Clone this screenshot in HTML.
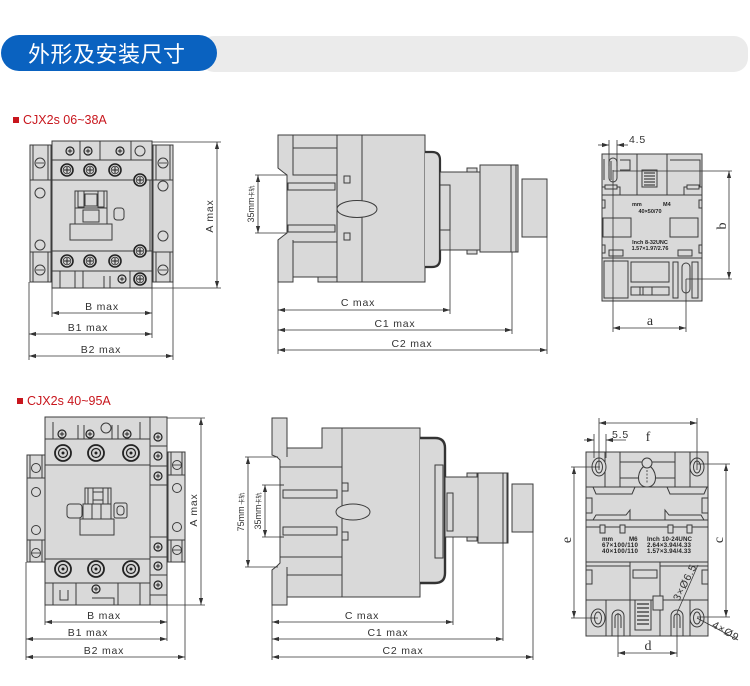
<!DOCTYPE html>
<html><head><meta charset="utf-8"><style>
html,body{margin:0;padding:0;background:#fff;}
svg{display:block;}
.f{fill:#d9d9d9;stroke:#3c3c3c;stroke-width:1;}
.n{fill:none;stroke:#3c3c3c;stroke-width:1;}
.l{fill:none;stroke:#333;stroke-width:0.8;}
.dm{fill:none;stroke:#333;stroke-width:0.8;marker-start:url(#ar);marker-end:url(#ar);}
.t{font-family:"Liberation Sans",sans-serif;font-size:10.5px;fill:#333;letter-spacing:0.8px;}
.s{font-family:"Liberation Serif",serif;font-size:14px;fill:#333;}
.sm{font-family:"Liberation Sans",sans-serif;font-size:5.5px;font-weight:bold;fill:#222;}
.sm6{font-family:"Liberation Sans",sans-serif;font-size:6.2px;font-weight:bold;fill:#222;}
</style></head><body>
<svg width="750" height="686" viewBox="0 0 750 686" xmlns="http://www.w3.org/2000/svg">
<defs>
<marker id="ar" viewBox="0 0 10 10" refX="10" refY="5" markerWidth="7" markerHeight="7" markerUnits="userSpaceOnUse" orient="auto-start-reverse"><path d="M0,2 L10,5 L0,8z" fill="#333"/></marker>
<g id="scp"><circle r="6" fill="#d4d4d4" stroke="#222" stroke-width="1.6"/><circle r="3.8" fill="none" stroke="#333" stroke-width="0.8"/><path d="M-3,0H3M0,-3V3" stroke="#222" stroke-width="1"/></g>
<g id="scs"><circle r="4" fill="#d4d4d4" stroke="#222" stroke-width="1.2"/><path d="M-2.2,0H2.2M0,-2.2V2.2" stroke="#222" stroke-width="0.9"/></g>
<g id="scb"><circle r="8" fill="#d4d4d4" stroke="#222" stroke-width="1.8"/><circle r="4.5" fill="#d4d4d4" stroke="#222" stroke-width="1.2"/><circle r="1.5" fill="#222"/></g>
</defs>

<!-- HEADER -->
<rect x="200" y="36" width="548" height="36" rx="14" fill="#ebebeb"/>
<rect x="1" y="35" width="216" height="36" rx="18" fill="#0a62c0"/>
<text x="28" y="62" font-family="'Liberation Sans','Noto Sans CJK SC',sans-serif" font-size="22" fill="#fff" textLength="157">外形及安装尺寸</text>

<!-- LABELS -->
<rect x="13" y="117" width="6" height="6" fill="#c8161d"/>
<text x="23" y="124" font-family="'Liberation Sans',sans-serif" font-size="12.5" fill="#c8161d">CJX2s 06~38A</text>
<rect x="17" y="398" width="6" height="6" fill="#c8161d"/>
<text x="27" y="405" font-family="'Liberation Sans',sans-serif" font-size="12.5" fill="#c8161d">CJX2s 40~95A</text>

<!-- ============ DIAGRAM 1 ============ -->
<g>
<rect class="f" x="30" y="145" width="21" height="137"/>
<path class="n" d="M30,180H51M30,252H51M33,145V180M48,145V180M33,252V282M48,252V282"/>
<circle class="f" cx="40" cy="163" r="5"/><path class="l" d="M36,163H44"/>
<circle class="f" cx="40" cy="193" r="5"/><circle class="f" cx="40" cy="245" r="5"/>
<circle class="f" cx="40" cy="270" r="5"/><path class="l" d="M36,270H44"/>
<rect class="f" x="153" y="145" width="20" height="137"/>
<path class="n" d="M153,180H173M153,252H173M156,145V180M170,145V180M156,252V282M170,252V282"/>
<circle class="f" cx="163" cy="163" r="5"/><path class="l" d="M159,163H167"/>
<circle class="f" cx="163" cy="186" r="5"/><circle class="f" cx="163" cy="236" r="5"/>
<circle class="f" cx="163" cy="270" r="5"/><path class="l" d="M159,270H167"/>
<rect class="f" x="52" y="141" width="100" height="147"/>
<path class="n" d="M52,160H152M52,180H152M52,251H152M52,271H152M80,141V160M100,141V160M131,141V160M150,180V251"/>
<path class="n" d="M60,271V288M75,271V288M83,271V288M104,276V288M110,276V288M130,271V288"/>
<circle class="n" cx="140" cy="151" r="5"/>
<use href="#scs" x="70" y="151"/><use href="#scs" x="88" y="151"/><use href="#scs" x="120" y="151"/>
<use href="#scp" x="67" y="170"/><use href="#scp" x="90" y="170"/><use href="#scp" x="115" y="170"/>
<use href="#scp" x="140" y="180"/><use href="#scp" x="140" y="251"/>
<use href="#scp" x="67" y="261"/><use href="#scp" x="90" y="261"/><use href="#scp" x="115" y="261"/>
<use href="#scs" x="122" y="279"/><use href="#scp" x="140" y="279"/>
<rect class="f" x="75" y="191" width="32" height="33"/>
<rect class="n" x="78" y="191" width="6" height="16"/><rect class="n" x="98" y="191" width="6" height="16"/>
<rect class="n" x="85" y="194" width="12" height="12"/>
<rect class="f" x="75" y="208" width="32" height="16"/><rect class="n" x="83" y="210" width="16" height="12"/>
<rect class="f" x="70" y="224" width="42" height="16"/>
<rect class="n" x="114" y="208" width="10" height="12" rx="3"/>
<path class="l" d="M152,142H221M152,288H221M52,288V317M152,288V338M29,282V360M173,282V360"/>
<line class="dm" x1="217" y1="142" x2="217" y2="288"/>
<text class="t" transform="translate(213,216) rotate(-90)" text-anchor="middle">A max</text>
<line class="dm" x1="52" y1="313" x2="152" y2="313"/>
<text class="t" x="102" y="310" text-anchor="middle">B max</text>
<line class="dm" x1="29" y1="334" x2="152" y2="334"/>
<text class="t" x="88" y="331" text-anchor="middle">B1 max</text>
<line class="dm" x1="29" y1="356" x2="173" y2="356"/>
<text class="t" x="101" y="353" text-anchor="middle">B2 max</text>
</g>

<!-- ============ DIAGRAM 2 ============ -->
<g>
<path class="f" d="M278,135H362V282H318V277H293V282H278V240L283,236L287,233V175L283,172L278,168Z"/>
<rect class="f" x="362" y="135" width="63" height="147"/>
<path class="n" d="M293,135V168M293,240V277M337,135V282"/>
<rect class="f" x="293" y="148" width="44" height="27"/>
<rect class="f" x="293" y="242" width="44" height="35"/>
<rect class="f" x="288" y="183" width="47" height="7"/>
<rect class="f" x="288" y="225" width="47" height="7"/>
<rect class="f" x="344" y="176" width="6" height="7"/>
<rect class="f" x="344" y="233" width="6" height="7"/>
<ellipse class="f" cx="357" cy="209" rx="20" ry="8.5"/>
<path d="M425,152H432Q440,152 440,160V259Q440,267 432,267H425" fill="#d9d9d9" stroke="#333" stroke-width="2.2"/>
<rect class="f" x="440" y="172" width="40" height="78"/>
<rect class="f" x="440" y="185" width="10" height="45"/>
<rect class="f" x="467" y="168" width="10" height="4"/>
<rect class="f" x="467" y="250" width="10" height="4"/>
<rect class="f" x="480" y="165" width="38" height="87"/>
<path class="n" d="M511,165V252M516,165V252"/>
<rect class="f" x="522" y="179" width="25" height="58"/>
<path class="l" d="M278,282V354M450,230V314M512,252V334M547,237V354M255,175H287M255,233H287"/>
<line class="dm" x1="258" y1="175" x2="258" y2="233"/>
<text transform="translate(254,204) rotate(-90)" text-anchor="middle" font-family="'Liberation Sans','Noto Sans CJK SC',sans-serif" font-size="9" fill="#333">35mm<tspan font-size="6">卡轨</tspan></text>
<line class="dm" x1="278" y1="310" x2="450" y2="310"/>
<text class="t" x="358" y="306" text-anchor="middle">C max</text>
<line class="dm" x1="278" y1="330" x2="512" y2="330"/>
<text class="t" x="395" y="327" text-anchor="middle">C1 max</text>
<line class="dm" x1="278" y1="350" x2="547" y2="350"/>
<text class="t" x="412" y="347" text-anchor="middle">C2 max</text>
</g>

<!-- ============ DIAGRAM 3 ============ -->
<g>
<rect class="f" x="602" y="154" width="100" height="147"/>
<path class="n" d="M602,187H620V195H637M667,195H684V187H702M602,195H637M667,195H702M602,258H702M637,154V195H667V154"/>
<path class="n" d="M620,160H630V170H620M670,160H700V187"/>
<rect class="f" x="642" y="170" width="15" height="17"/>
<path d="M644,173H655M644,176H655M644,179H655M644,182H655M644,185H655" stroke="#444" stroke-width="1.2"/>
<rect class="f" x="605" y="185" width="12" height="4"/><rect class="f" x="687" y="185" width="12" height="4"/>
<rect class="f" x="603" y="218" width="28" height="19"/><rect class="f" x="670" y="218" width="28" height="19"/>
<rect class="f" x="602" y="200" width="3" height="8"/><rect class="f" x="699" y="200" width="3" height="8"/>
<rect class="f" x="602" y="245" width="3" height="8"/><rect class="f" x="699" y="245" width="3" height="8"/>
<rect class="f" x="609" y="250" width="14" height="6"/><rect class="f" x="678" y="250" width="14" height="6"/>
<rect class="f" x="604" y="261" width="24" height="37"/>
<rect class="f" x="631" y="262" width="38" height="20"/>
<rect class="f" x="631" y="287" width="38" height="8"/>
<path class="n" d="M640,287V295M643,287V295M652,287V295"/>
<rect class="f" x="673" y="262" width="5" height="36"/><rect class="f" x="692" y="262" width="6" height="36"/>
<rect class="f" x="609" y="158" width="8" height="24" rx="4"/>
<rect class="f" x="682" y="263" width="8" height="30" rx="4"/>
<path class="n" d="M604,159V180M611,161V180"/>
<text class="sm" x="632" y="206">mm</text><text class="sm" x="663" y="206">M4</text>
<text class="sm" x="650" y="213" text-anchor="middle">40×50/70</text>
<text class="sm" x="650" y="244" text-anchor="middle">Inch  8-32UNC</text>
<text class="sm" x="650" y="250" text-anchor="middle">1.57×1.97/2.76</text>
<path class="l" d="M609,140V166M617,140V166M613,171H732M686,279H732M613,170V332M686,279V332"/>
<line class="l" x1="598" y1="145" x2="609" y2="145" marker-end="url(#ar)"/>
<line class="l" x1="628" y1="145" x2="617" y2="145" marker-end="url(#ar)"/>
<text class="t" x="629" y="143" font-size="11">4.5</text>
<line class="dm" x1="729" y1="171" x2="729" y2="279"/>
<text class="s" transform="translate(726,226) rotate(-90)" text-anchor="middle">b</text>
<line class="dm" x1="613" y1="328" x2="686" y2="328"/>
<text class="s" x="650" y="325" text-anchor="middle">a</text>
</g>

<!-- ============ DIAGRAM 4 ============ -->
<g>
<rect class="f" x="27" y="455" width="18" height="107"/>
<path class="n" d="M27,478H45M27,540H45M30,455V478M42,455V478M30,540V562M42,540V562"/>
<circle class="f" cx="36" cy="468" r="4.5"/><circle class="f" cx="36" cy="492" r="4.5"/>
<circle class="f" cx="36" cy="530" r="4.5"/><circle class="f" cx="36" cy="553" r="4.5"/><path class="l" d="M32,553H40"/>
<rect class="f" x="168" y="452" width="17" height="110"/>
<path class="n" d="M168,475H185M168,540H185M171,452V475M182,452V475M171,540V562M182,540V562"/>
<circle class="f" cx="177" cy="465" r="4.5"/><path class="l" d="M173,465H181"/><circle class="f" cx="177" cy="488" r="4.5"/>
<circle class="f" cx="177" cy="527" r="4.5"/><circle class="f" cx="177" cy="550" r="4.5"/><path class="l" d="M173,550H181"/>
<rect class="f" x="45" y="417" width="122" height="188"/>
<path class="n" d="M45,439H150M45,465H150M45,559H150M45,583H150M150,417V605M53,422V439M78,425V439M84,425V439M112,425V439M118,425V439M140,422V439"/>
<path class="n" d="M150,446H167M150,466H167M150,485H167M150,537H167M150,557H167M150,575H167M150,595H167"/>
<circle class="n" cx="106" cy="428" r="5"/>
<use href="#scs" x="62" y="434"/><use href="#scs" x="90" y="434"/><use href="#scs" x="127" y="434"/>
<use href="#scb" x="63" y="453"/><use href="#scb" x="96" y="453"/><use href="#scb" x="131" y="453"/>
<use href="#scb" x="63" y="569"/><use href="#scb" x="96" y="569"/><use href="#scb" x="131" y="569"/>
<use href="#scs" x="158" y="437"/><use href="#scs" x="158" y="456"/><use href="#scs" x="158" y="476"/>
<use href="#scs" x="158" y="547"/><use href="#scs" x="158" y="566"/><use href="#scs" x="158" y="585"/>
<path class="n" d="M53,583V605M60,590V600H68V590M76,583V605M118,583V605M140,583V605M92,598H114V605"/>
<use href="#scs" x="96" y="589"/>
<rect class="f" x="85" y="488" width="26" height="18"/>
<rect class="n" x="88" y="488" width="5" height="16"/><rect class="n" x="103" y="488" width="5" height="16"/>
<rect class="n" x="93" y="492" width="10" height="8"/>
<rect class="f" x="67" y="504" width="15" height="14" rx="3"/>
<rect class="f" x="83" y="504" width="28" height="15"/>
<path class="n" d="M92,504V519M101,504V519"/>
<rect class="f" x="114" y="503" width="13" height="15" rx="2"/><rect class="n" x="117" y="506" width="7" height="9" rx="3"/>
<rect class="f" x="80" y="519" width="34" height="16"/>
<path class="l" d="M167,418H205M167,605H205M45,605V625M167,605V641M26,562V660M185,562V660"/>
<line class="dm" x1="201" y1="418" x2="201" y2="605"/>
<text class="t" transform="translate(197,510) rotate(-90)" text-anchor="middle">A max</text>
<line class="dm" x1="45" y1="622" x2="167" y2="622"/>
<text class="t" x="104" y="619" text-anchor="middle">B max</text>
<line class="dm" x1="26" y1="639" x2="167" y2="639"/>
<text class="t" x="88" y="636" text-anchor="middle">B1 max</text>
<line class="dm" x1="26" y1="657" x2="185" y2="657"/>
<text class="t" x="104" y="654" text-anchor="middle">B2 max</text>
</g>

<!-- ============ DIAGRAM 5 ============ -->
<g>
<path class="f" d="M272,418H287V448H322V428H342V597H287V605H272V570L277,566L280,563V460L277,457L272,455Z"/>
<rect class="f" x="342" y="428" width="78" height="169"/>
<path class="n" d="M287,418V457M287,567V605M280,467H342M280,557H342M287,575H342"/>
<path class="n" d="M280,485H284M280,537H284"/>
<rect class="f" x="283" y="490" width="54" height="8"/>
<rect class="f" x="283" y="527" width="54" height="8"/>
<rect class="f" x="342" y="483" width="6" height="8"/>
<rect class="f" x="342" y="532" width="6" height="8"/>
<ellipse class="f" cx="353" cy="512" rx="17" ry="8"/>
<path d="M420,438H435Q445,438 445,448V573Q445,583 435,583H420" fill="#d9d9d9" stroke="#333" stroke-width="2.4"/>
<rect class="f" x="435" y="465" width="8" height="93"/>
<rect class="f" x="445" y="477" width="33" height="60"/>
<rect class="f" x="447" y="493" width="6" height="38"/>
<rect class="f" x="467" y="473" width="10" height="4"/>
<rect class="f" x="467" y="537" width="10" height="4"/>
<rect class="f" x="478" y="473" width="30" height="70"/>
<path class="n" d="M503,473V543M507,473V543"/>
<rect class="f" x="512" y="484" width="21" height="48"/>
<path class="l" d="M272,605V660M453,537V625M503,543V641M533,532V660M245,457H278M245,567H278M262,485H282M262,537H282"/>
<line class="dm" x1="248" y1="457" x2="248" y2="567"/>
<text transform="translate(244,512) rotate(-90)" text-anchor="middle" font-family="'Liberation Sans','Noto Sans CJK SC',sans-serif" font-size="9" fill="#333">75mm<tspan font-size="6"> 卡轨</tspan></text>
<line class="dm" x1="265" y1="485" x2="265" y2="537"/>
<text transform="translate(261,511) rotate(-90)" text-anchor="middle" font-family="'Liberation Sans','Noto Sans CJK SC',sans-serif" font-size="9" fill="#333">35mm<tspan font-size="6">卡轨</tspan></text>
<line class="dm" x1="272" y1="622" x2="453" y2="622"/>
<text class="t" x="362" y="619" text-anchor="middle">C max</text>
<line class="dm" x1="272" y1="639" x2="503" y2="639"/>
<text class="t" x="388" y="636" text-anchor="middle">C1 max</text>
<line class="dm" x1="272" y1="657" x2="533" y2="657"/>
<text class="t" x="403" y="654" text-anchor="middle">C2 max</text>
</g>

<!-- ============ DIAGRAM 6 ============ -->
<g>
<rect class="f" x="586" y="452" width="122" height="184"/>
<path class="n" d="M586,487H708M605,452V487M620,452V487M675,452V487M690,452V487M620,462H675M620,478H640M654,478H675"/>
<path class="n" d="M593,487L596,494H632L635,487M667,487L670,494H704L707,487"/>
<path class="n" d="M586,520H708M586,527H708M586,562H708M586,600H708"/>
<path class="n" d="M593,520L596,515H626L630,510V520M665,520V510L669,515H701L704,520"/>
<rect class="f" x="586" y="498" width="6" height="15"/><rect class="f" x="702" y="498" width="6" height="15"/>
<rect class="f" x="586" y="570" width="6" height="14"/><rect class="f" x="702" y="570" width="6" height="14"/>
<rect class="f" x="600" y="525" width="5" height="8"/><rect class="f" x="620" y="525" width="5" height="8"/>
<rect class="f" x="668" y="525" width="5" height="8"/><rect class="f" x="687" y="525" width="5" height="8"/>
<path class="n" d="M630,562V636M660,562V636M586,566H630M660,566H708"/>
<rect class="f" x="633" y="570" width="24" height="8"/>
<rect class="f" x="635" y="600" width="16" height="30"/>
<path d="M637,604H649M637,608H649M637,612H649M637,616H649M637,620H649M637,624H649" stroke="#333" stroke-width="1.2"/>
<rect class="f" x="653" y="596" width="10" height="14"/>
<ellipse class="f" cx="599" cy="467" rx="7" ry="9"/><ellipse class="n" cx="599" cy="467" rx="3.5" ry="6"/>
<ellipse class="f" cx="697" cy="467" rx="7" ry="9"/><ellipse class="n" cx="697" cy="467" rx="3.5" ry="6"/>
<path class="f" d="M643,467C636,474 637,487 647,487C657,487 658,474 651,467Z"/>
<circle class="f" cx="647" cy="463" r="5"/>
<path class="l" d="M647,470V484" stroke-dasharray="2,1.5"/>
<ellipse class="f" cx="598" cy="618" rx="7" ry="9"/><ellipse class="n" cx="598" cy="618" rx="3.5" ry="6"/>
<ellipse class="f" cx="697" cy="618" rx="7" ry="9"/><ellipse class="n" cx="697" cy="618" rx="3.5" ry="6"/>
<path class="f" d="M612,636V616A6,6 0 0 1 624,616V636Z"/><path class="n" d="M615,628V617A3,3 0 0 1 621,617V628"/>
<path class="f" d="M671,636V616A6,6 0 0 1 683,616V636Z"/><path class="n" d="M674,628V617A3,3 0 0 1 680,617V628"/>
<path class="n" d="M606,600V636M690,600V636"/>
<text class="sm6" x="602" y="541">mm</text><text class="sm6" x="629" y="541">M6</text>
<text class="sm6" x="647" y="541">Inch</text><text class="sm6" x="662" y="541" textLength="30">10-24UNC</text>
<text class="sm6" x="602" y="547" textLength="36">67×100/110</text><text class="sm6" x="647" y="547" textLength="44">2.64×3.94/4.33</text>
<text class="sm6" x="602" y="553" textLength="36">40×100/110</text><text class="sm6" x="647" y="553" textLength="44">1.57×3.94/4.33</text>
<path class="l" d="M599,418V470M697,418V470M571,467H600M571,618H598M697,464H730M697,617H730M618,613V657M677,613V657M594,434V458M606,434V458"/>
<line class="dm" x1="599" y1="423" x2="697" y2="423"/>
<text class="s" x="648" y="441" text-anchor="middle">f</text>
<line class="l" x1="584" y1="440" x2="594" y2="440" marker-end="url(#ar)"/>
<line class="l" x1="626" y1="440" x2="606" y2="440" marker-end="url(#ar)"/>
<text class="t" x="612" y="438" font-size="11">5.5</text>
<line class="dm" x1="574" y1="467" x2="574" y2="618"/>
<text class="s" transform="translate(571,540) rotate(-90)" text-anchor="middle">e</text>
<line class="dm" x1="726" y1="464" x2="726" y2="617"/>
<text class="s" transform="translate(723,540) rotate(-90)" text-anchor="middle">c</text>
<line class="dm" x1="618" y1="653" x2="677" y2="653"/>
<text class="s" x="648" y="650" text-anchor="middle">d</text>
<line class="l" x1="698" y1="565" x2="677" y2="613"/>
<text class="t" font-size="9" letter-spacing="0" transform="translate(688,584) rotate(-63)" text-anchor="middle">3×Ø6.5</text>
<line class="l" x1="697" y1="618" x2="738" y2="640"/>
<text class="t" font-size="9" letter-spacing="0" transform="translate(724,634) rotate(30)" text-anchor="middle">4×Ø9</text>
</g>
</svg>
</body></html>
